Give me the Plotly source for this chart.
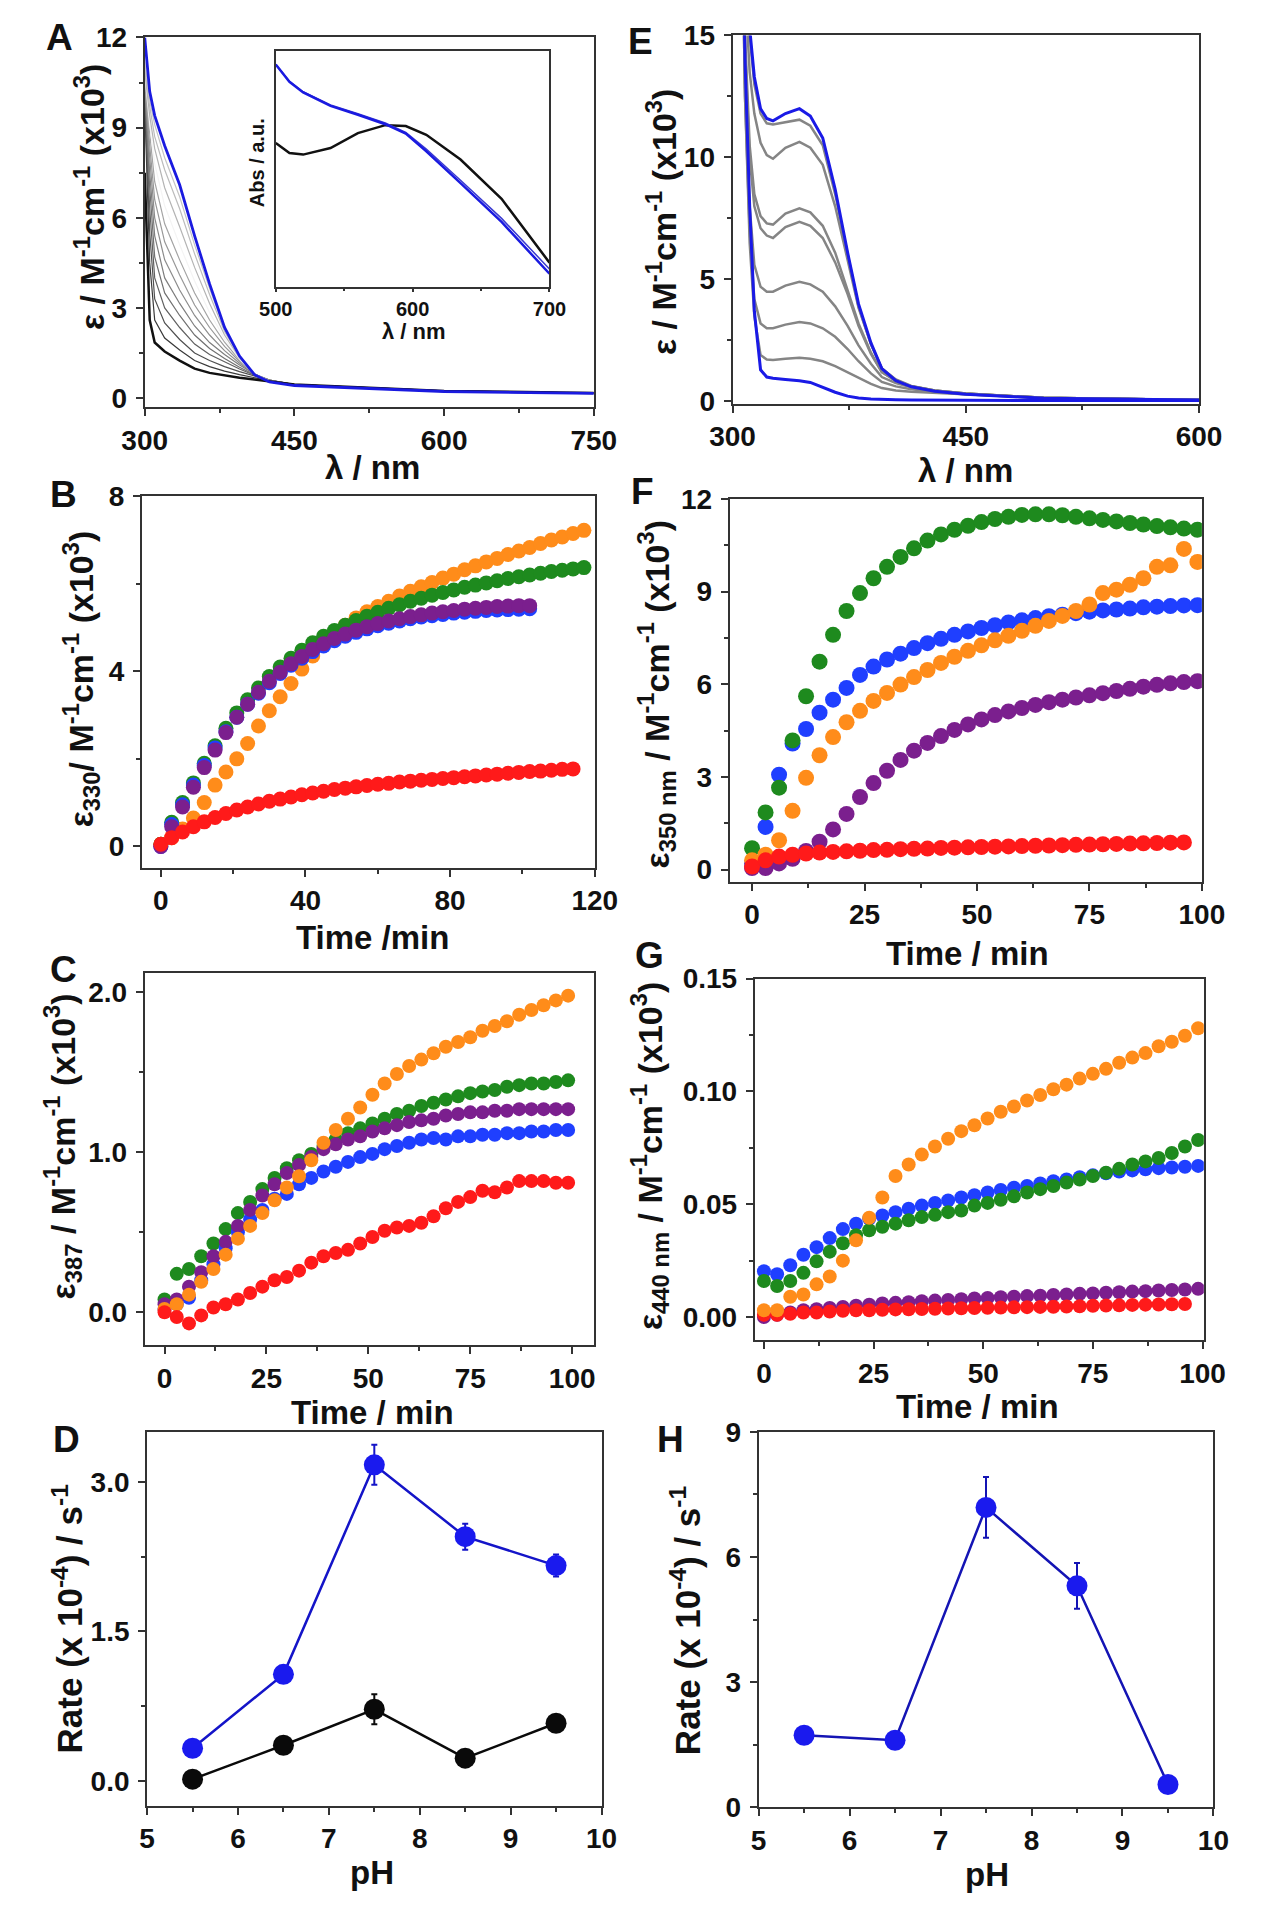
import plotly.graph_objects as go

W, H = 1267, 1920
M = 8  # default page (body) margin that shifts the whole figure
FONT = "Liberation Sans, Arial, sans-serif"

# ---------------- Panel A data ----------------
lam_a = [300, 305, 310, 320, 335, 350, 365, 380, 395, 410, 425, 450, 600, 750]
A_black = [7.5, 2.6, 1.85, 1.55, 1.25, 0.98, 0.84, 0.75, 0.68, 0.62, 0.56, 0.45, 0.24, 0.17]
A_blue = [12.0, 10.2, 9.4, 8.4, 7.1, 5.4, 3.8, 2.35, 1.4, 0.78, 0.54, 0.42, 0.22, 0.16]
A_gray = [
    [9.8, 4.5, 2.6, 2.0, 1.6, 1.25, 1.05, 0.9, 0.78, 0.68, 0.58, 0.45, 0.24, 0.17],
    [10.0, 5.5, 3.3, 2.5, 1.95, 1.5, 1.25, 1.05, 0.88, 0.73, 0.6, 0.45, 0.24, 0.17],
    [10.2, 6.3, 4.0, 3.0, 2.35, 1.8, 1.45, 1.2, 0.97, 0.76, 0.6, 0.45, 0.24, 0.17],
    [10.3, 7.0, 4.7, 3.5, 2.75, 2.1, 1.65, 1.32, 1.03, 0.78, 0.6, 0.45, 0.23, 0.17],
    [10.4, 7.5, 5.4, 4.0, 3.15, 2.4, 1.85, 1.45, 1.1, 0.8, 0.6, 0.44, 0.23, 0.16],
    [10.5, 8.0, 6.0, 4.6, 3.6, 2.75, 2.1, 1.58, 1.16, 0.8, 0.59, 0.44, 0.23, 0.16],
    [10.6, 8.4, 6.6, 5.2, 4.1, 3.1, 2.35, 1.72, 1.22, 0.8, 0.58, 0.44, 0.23, 0.16],
    [10.7, 8.8, 7.2, 5.8, 4.6, 3.5, 2.6, 1.86, 1.27, 0.8, 0.57, 0.43, 0.23, 0.16],
    [10.8, 9.1, 7.8, 6.4, 5.1, 3.9, 2.85, 1.98, 1.3, 0.79, 0.56, 0.43, 0.23, 0.16],
    [10.9, 9.4, 8.3, 7.0, 5.7, 4.35, 3.15, 2.1, 1.34, 0.79, 0.55, 0.43, 0.22, 0.16],
    [11.0, 9.7, 8.7, 7.6, 6.3, 4.8, 3.45, 2.22, 1.37, 0.78, 0.55, 0.42, 0.22, 0.16],
    [11.2, 9.9, 9.1, 8.0, 6.7, 5.1, 3.65, 2.3, 1.39, 0.78, 0.54, 0.42, 0.22, 0.16],
]
A_gray_colors = ["#3a3a3a", "#505050", "#606060", "#707070", "#7e7e7e", "#8c8c8c",
                 "#989898", "#a4a4a4", "#f4f4f4", "#b4b4b4", "#bcbcbc", "#c4c4c4"]

# inset of A
lam_in = [500, 510, 520, 540, 560, 580, 595, 610, 635, 665, 700]
in_black = [0.61, 0.568, 0.561, 0.589, 0.652, 0.686, 0.682, 0.645, 0.54, 0.373, 0.102]
in_blue = [0.944, 0.87, 0.825, 0.768, 0.73, 0.69, 0.65, 0.575, 0.44, 0.275, 0.055]
in_blue2 = [0.944, 0.872, 0.828, 0.772, 0.735, 0.695, 0.655, 0.585, 0.452, 0.29, 0.075]

# ---------------- Panel E data ----------------
lam_e = [302, 305, 308, 311, 314, 318, 322, 326, 334, 343, 350, 358, 366, 374, 381, 389,
         396, 405, 415, 430, 450, 500, 600]
E_blue_init = [40, 25, 14, 8.0, 3.7, 1.3, 1.0, 0.95, 0.9, 0.85, 0.78, 0.58, 0.38, 0.22, 0.14,
               0.1, 0.08, 0.07, 0.06, 0.05, 0.05, 0.04, 0.04]
E_blue_final = [40, 28, 19, 15.3, 13.3, 12.0, 11.6, 11.5, 11.8, 12.0, 11.7, 10.8, 8.7, 6.1,
                4.0, 2.4, 1.35, 0.85, 0.6, 0.42, 0.3, 0.13, 0.06]
E_gray = [
    [40, 28, 18.5, 15, 13, 11.8, 11.4, 11.35, 11.45, 11.55, 11.3, 10.5, 8.5, 6.0, 3.9, 2.35, 1.35, 0.88, 0.62, 0.44, 0.32, 0.15, 0.06],
    [40, 27, 17, 13.5, 11.8, 10.6, 10.1, 9.95, 10.4, 10.64, 10.4, 9.7, 8.0, 5.8, 3.85, 2.35, 1.35, 0.9, 0.64, 0.45, 0.33, 0.15, 0.06],
    [40, 26, 15, 10.5, 8.5, 7.6, 7.3, 7.25, 7.7, 7.92, 7.75, 7.2, 6.1, 4.6, 3.2, 2.0, 1.2, 0.85, 0.62, 0.45, 0.33, 0.15, 0.06],
    [40, 26, 14.5, 10, 8, 7.1, 6.8, 6.7, 7.15, 7.36, 7.2, 6.7, 5.7, 4.4, 3.1, 1.95, 1.2, 0.85, 0.62, 0.45, 0.33, 0.15, 0.06],
    [40, 25, 13, 8, 5.6, 4.7, 4.5, 4.5, 4.75, 4.91, 4.8, 4.5, 3.9, 3.1, 2.3, 1.55, 1.0, 0.75, 0.58, 0.43, 0.32, 0.15, 0.06],
    [40, 24, 12.5, 7, 4.2, 3.2, 3.0, 3.0, 3.15, 3.26, 3.2, 3.0, 2.65, 2.15, 1.65, 1.15, 0.8, 0.62, 0.5, 0.4, 0.3, 0.14, 0.06],
    [40, 24, 12.5, 6.5, 3.5, 1.9, 1.72, 1.7, 1.75, 1.79, 1.75, 1.65, 1.45, 1.2, 0.95, 0.72, 0.55, 0.45, 0.4, 0.35, 0.28, 0.14, 0.06],
]

# ---------------- Panel B data ----------------
tB = [0, 3, 6, 9, 12, 15, 18, 21, 24, 27, 30, 33, 36, 39, 42, 45, 48, 51, 54, 57,
      60, 63, 66, 69, 72, 75, 78, 81, 84, 87, 90, 93, 96, 99, 102, 105, 108, 111, 114, 117]
B_orange = [0.05, 0.2, 0.4, 0.65, 1.0, 1.4, 1.7, 2.0, 2.35, 2.75, 3.1, 3.42, 3.72, 4.05, 4.35, 4.6,
            4.85, 5.05, 5.22, 5.36, 5.48, 5.6, 5.72, 5.83, 5.93, 6.03, 6.13, 6.22, 6.32, 6.41,
            6.5, 6.58, 6.67, 6.75, 6.83, 6.92, 7.0, 7.07, 7.15, 7.22]
B_green = [0.05, 0.55, 1.0, 1.45, 1.9, 2.3, 2.7, 3.05, 3.35, 3.62, 3.88, 4.1, 4.3, 4.48, 4.65, 4.8,
           4.93, 5.05, 5.16, 5.26, 5.35, 5.44, 5.52, 5.6, 5.67, 5.74, 5.8, 5.86, 5.92, 5.97,
           6.02, 6.07, 6.12, 6.16, 6.2, 6.24, 6.28, 6.31, 6.34, 6.37]
tB_short = [0, 3, 6, 9, 12, 15, 18, 21, 24, 27, 30, 33, 36, 39, 42, 45, 48, 51, 54, 57,
            60, 63, 66, 69, 72, 75, 78, 81, 84, 87, 90, 93, 96, 99, 102]
B_blue = [0.0, 0.5, 0.95, 1.4, 1.85, 2.25, 2.62, 2.95, 3.25, 3.5, 3.74, 3.95, 4.14, 4.3, 4.45, 4.58,
          4.7, 4.8, 4.89, 4.97, 5.04, 5.1, 5.15, 5.2, 5.24, 5.27, 5.3, 5.33, 5.35, 5.37,
          5.39, 5.4, 5.41, 5.42, 5.43]
B_purple = [0.0, 0.45, 0.9, 1.35, 1.8, 2.2, 2.6, 2.95, 3.25, 3.52, 3.77, 3.98, 4.17, 4.34, 4.5, 4.63,
            4.75, 4.85, 4.94, 5.02, 5.09, 5.15, 5.2, 5.25, 5.29, 5.33, 5.36, 5.39, 5.42, 5.44,
            5.46, 5.48, 5.49, 5.5, 5.5]
tB_red = [0, 3, 6, 9, 12, 15, 18, 21, 24, 27, 30, 33, 36, 39, 42, 45, 48, 51, 54, 57,
          60, 63, 66, 69, 72, 75, 78, 81, 84, 87, 90, 93, 96, 99, 102, 105, 108, 111, 114]
B_red = [0.05, 0.2, 0.33, 0.45, 0.56, 0.66, 0.75, 0.83, 0.9, 0.97, 1.03, 1.08, 1.13, 1.18, 1.22, 1.26,
         1.3, 1.33, 1.36, 1.39, 1.42, 1.44, 1.47, 1.49, 1.51, 1.53, 1.55, 1.57, 1.59, 1.61,
         1.63, 1.65, 1.67, 1.69, 1.71, 1.72, 1.74, 1.76, 1.77]

# ---------------- Panels F, C, G time grid ----------------
t100 = [0, 3, 6, 9, 12, 15, 18, 21, 24, 27, 30, 33, 36, 39, 42, 45, 48, 51, 54, 57,
        60, 63, 66, 69, 72, 75, 78, 81, 84, 87, 90, 93, 96, 99]
t96 = [0, 3, 6, 9, 12, 15, 18, 21, 24, 27, 30, 33, 36, 39, 42, 45, 48, 51, 54, 57,
       60, 63, 66, 69, 72, 75, 78, 81, 84, 87, 90, 93, 96]

F_green = [0.69, 1.85, 2.65, 4.18, 5.61, 6.73, 7.6, 8.37, 8.95, 9.43, 9.8, 10.12, 10.4, 10.65, 10.85,
           11.0, 11.13, 11.25, 11.35, 11.42, 11.48, 11.5, 11.5, 11.47, 11.42, 11.37, 11.32, 11.27,
           11.22, 11.17, 11.12, 11.08, 11.04, 11.0]
F_blue = [0.2, 1.38, 3.07, 4.08, 4.55, 5.08, 5.5, 5.88, 6.3, 6.57, 6.8, 6.99, 7.17, 7.33, 7.47, 7.6,
          7.71, 7.82, 7.91, 8.0, 8.07, 8.14, 8.2, 8.25, 8.3, 8.35, 8.39, 8.42, 8.45, 8.49,
          8.51, 8.53, 8.55, 8.56]
F_orange = [0.3, 0.48, 0.95, 1.9, 2.97, 3.7, 4.29, 4.77, 5.14, 5.46, 5.72, 5.99, 6.23, 6.46, 6.69,
            6.89, 7.08, 7.26, 7.42, 7.57, 7.73, 7.89, 8.05, 8.21, 8.37, 8.58, 8.95, 9.06, 9.22,
            9.43, 9.8, 9.85, 10.38, 9.96]
F_purple = [0.05, 0.05, 0.2, 0.35, 0.6, 0.9, 1.3, 1.8, 2.35, 2.8, 3.2, 3.55, 3.85, 4.1, 4.32, 4.52,
            4.7, 4.86, 5.0, 5.12, 5.23, 5.33, 5.42, 5.5, 5.57, 5.64, 5.71, 5.78, 5.85, 5.92,
            5.98, 6.03, 6.07, 6.1]
F_red = [0.1, 0.3, 0.42, 0.48, 0.52, 0.55, 0.57, 0.59, 0.61, 0.63, 0.64, 0.66, 0.67, 0.68, 0.7, 0.71,
         0.72, 0.73, 0.74, 0.75, 0.76, 0.77, 0.78, 0.79, 0.8, 0.81, 0.82, 0.83, 0.84, 0.85,
         0.86, 0.87, 0.88]

C_orange = [0.02, 0.05, 0.11, 0.19, 0.27, 0.36, 0.46, 0.54, 0.62, 0.7, 0.78, 0.85, 0.95, 1.06, 1.14,
            1.21, 1.28, 1.36, 1.43, 1.49, 1.54, 1.58, 1.62, 1.66, 1.69, 1.72, 1.76, 1.79, 1.82,
            1.86, 1.89, 1.92, 1.95, 1.98]
C_green = [0.08, 0.24, 0.27, 0.35, 0.43, 0.52, 0.62, 0.69, 0.77, 0.84, 0.9, 0.95, 0.99, 1.04, 1.08,
           1.12, 1.15, 1.18, 1.21, 1.24, 1.26, 1.29, 1.31, 1.33, 1.35, 1.37, 1.38, 1.39, 1.41,
           1.42, 1.43, 1.43, 1.44, 1.45]
C_purple = [0.05, 0.08, 0.16, 0.25, 0.35, 0.44, 0.54, 0.64, 0.73, 0.8, 0.87, 0.92, 0.97, 1.02, 1.05,
            1.08, 1.1, 1.13, 1.15, 1.17, 1.19, 1.2, 1.21, 1.23, 1.24, 1.25, 1.25, 1.26, 1.26,
            1.27, 1.27, 1.27, 1.27, 1.27]
C_blue = [0.02, 0.05, 0.09, 0.2, 0.3, 0.4, 0.5, 0.58, 0.64, 0.71, 0.74, 0.8, 0.84, 0.88, 0.91, 0.94,
          0.97, 0.99, 1.02, 1.04, 1.06, 1.08, 1.09, 1.08, 1.1, 1.1, 1.11, 1.11, 1.12, 1.12,
          1.13, 1.13, 1.14, 1.14]
C_red = [0.0, -0.03, -0.07, -0.02, 0.03, 0.05, 0.08, 0.12, 0.16, 0.2, 0.22, 0.26, 0.31, 0.35, 0.37,
         0.39, 0.43, 0.47, 0.51, 0.53, 0.54, 0.56, 0.6, 0.65, 0.69, 0.72, 0.76, 0.75, 0.78,
         0.82, 0.82, 0.82, 0.81, 0.81]

G_orange = [0.003, 0.003, 0.009, 0.01, 0.0145, 0.018, 0.025, 0.034, 0.044, 0.053, 0.0625, 0.0676,
            0.072, 0.0756, 0.079, 0.0824, 0.085, 0.088, 0.091, 0.0933, 0.096, 0.0984, 0.101,
            0.103, 0.1057, 0.1078, 0.11, 0.1127, 0.115, 0.117, 0.12, 0.122, 0.1247, 0.128]
G_blue = [0.0203, 0.019, 0.023, 0.0276, 0.031, 0.035, 0.039, 0.0414, 0.0436, 0.045, 0.0465, 0.048,
          0.0494, 0.0506, 0.0517, 0.053, 0.054, 0.0552, 0.0563, 0.0573, 0.0581, 0.0592, 0.0602,
          0.061, 0.062, 0.0628, 0.0637, 0.0645, 0.065, 0.0655, 0.066, 0.0663, 0.0666, 0.067]
G_green = [0.016, 0.0138, 0.016, 0.0196, 0.0247, 0.029, 0.0327, 0.0363, 0.0385, 0.04, 0.0414,
           0.0429, 0.0443, 0.0453, 0.0465, 0.0472, 0.0494, 0.0506, 0.052, 0.0535, 0.0552, 0.0567,
           0.0581, 0.0596, 0.061, 0.0625, 0.064, 0.0657, 0.0676, 0.069, 0.0705, 0.0727, 0.0756, 0.0785]
G_purple = [0.0, 0.001, 0.002, 0.003, 0.0035, 0.004, 0.0045, 0.005, 0.0055, 0.006, 0.0063, 0.0066,
            0.007, 0.0073, 0.0076, 0.0079, 0.0082, 0.0085, 0.0088, 0.009, 0.0093, 0.0095, 0.0098,
            0.01, 0.0103, 0.0105, 0.0108, 0.011, 0.0113, 0.0115, 0.0118, 0.012, 0.0122, 0.0125]
G_red = [0.001, 0.001, 0.0015, 0.002, 0.002, 0.0025, 0.0028, 0.003, 0.003, 0.0032, 0.0034, 0.0035,
         0.0036, 0.0037, 0.0038, 0.0039, 0.004, 0.0041, 0.0042, 0.0043, 0.0044, 0.0045, 0.0046,
         0.0047, 0.0048, 0.005, 0.0051, 0.0052, 0.0054, 0.0055, 0.0056, 0.0057, 0.0058]

# ---------------- Panels D, H data ----------------
pH = [5.5, 6.5, 7.5, 8.5, 9.5]
D_blue = [0.33, 1.07, 3.17, 2.45, 2.16]
D_blue_err = [0.03, 0.05, 0.2, 0.13, 0.11]
D_black = [0.02, 0.36, 0.72, 0.23, 0.58]
D_black_err = [0.03, 0.04, 0.15, 0.03, 0.05]
H_blue = [1.73, 1.61, 7.19, 5.31, 0.55]
H_blue_err = [0.05, 0.05, 0.73, 0.55, 0.05]

# ---------------- tick labels ----------------
A_xt, A_xl = [300, 450, 600, 750], ["300", "450", "600", "750"]
A_yt, A_yl = [0, 3, 6, 9, 12], ["0", "3", "6", "9", "12"]
E_xt, E_xl = [300, 450, 600], ["300", "450", "600"]
E_yt, E_yl = [0, 5, 10, 15], ["0", "5", "10", "15"]
B_xt, B_xl = [0, 40, 80, 120], ["0", "40", "80", "120"]
B_yt, B_yl = [0, 4, 8], ["0", "4", "8"]
T_xt, T_xl = [0, 25, 50, 75, 100], ["0", "25", "50", "75", "100"]
F_yt, F_yl = [0, 3, 6, 9, 12], ["0", "3", "6", "9", "12"]
C_yt, C_yl = [0, 1, 2], ["0.0", "1.0", "2.0"]
G_yt, G_yl = [0, 0.05, 0.10, 0.15], ["0.00", "0.05", "0.10", "0.15"]
P_xt, P_xl = [5, 6, 7, 8, 9, 10], ["5", "6", "7", "8", "9", "10"]
D_yt, D_yl = [0, 1.5, 3.0], ["0.0", "1.5", "3.0"]
H_yt, H_yl = [0, 3, 6, 9], ["0", "3", "6", "9"]
I_xt, I_xl = [500, 600, 700], ["500", "600", "700"]

# ---------------- styling ----------------
C_OR, C_GR, C_BL, C_PU, C_RD = "#ff8c1a", "#1e8a1e", "#1f3fff", "#7b1f8e", "#ff1a1a"
AX = "#333333"
TICK = 28


def dom_x(l, r):
    return [(l - M) / W, (r - M) / W]


def dom_y(t, b):
    return [1 - (b - M) / H, 1 - (t - M) / H]


def bold(lst):
    return ["<b>" + s + "</b>" for s in lst]


def xaxis(l, r, anchor, rng, tv, tl, mtick0, mdtick, size=TICK, tlen=7, lw=2):
    return dict(domain=dom_x(l, r), anchor=anchor, range=rng, tickmode="array",
                tickvals=tv, ticktext=bold(tl),
                ticks="outside", ticklen=tlen, tickwidth=2, tickcolor=AX,
                showline=True, linecolor=AX, linewidth=lw, mirror=True,
                showgrid=False, zeroline=False,
                tickfont=dict(family=FONT, size=size, color="#111"),
                minor=dict(tickmode="linear", tick0=mtick0, dtick=mdtick, ticks="outside",
                           ticklen=4, tickwidth=2, tickcolor=AX))


def yaxis(t, b, anchor, rng, tv, tl, mtick0, mdtick, size=TICK):
    return dict(domain=dom_y(t, b), anchor=anchor, range=rng, tickmode="array",
                tickvals=tv, ticktext=bold(tl),
                ticks="outside", ticklen=7, tickwidth=2, tickcolor=AX,
                showline=True, linecolor=AX, linewidth=2, mirror=True,
                showgrid=False, zeroline=False, ticklabelstandoff=3,
                tickfont=dict(family=FONT, size=size, color="#111"),
                minor=dict(tickmode="linear", tick0=mtick0, dtick=mdtick, ticks="outside",
                           ticklen=4, tickwidth=2, tickcolor=AX))


fig = go.Figure()


def line(x, y, ax, color, width):
    fig.add_trace(go.Scatter(x=x, y=y, mode="lines", line=dict(color=color, width=width),
                             xaxis="x" + ax, yaxis="y" + ax, showlegend=False,
                             hoverinfo="skip"))


def dots(x, y, ax, color, size=15):
    fig.add_trace(go.Scatter(x=x, y=y, mode="markers",
                             marker=dict(color=color, size=size, line=dict(width=0)),
                             xaxis="x" + ax, yaxis="y" + ax, showlegend=False))


# Panel A
for g, c in zip(A_gray, A_gray_colors):
    line(lam_a, g, "", c, 1.2)
line(lam_a, A_black, "", "#111111", 2.5)
line(lam_a, A_blue, "", "#1a1ae0", 2.8)
# inset
line(lam_in, in_black, "9", "#111111", 2.5)
line(lam_in, in_blue2, "9", "#3a3ad0", 1.5)
line(lam_in, in_blue, "9", "#1a1ae0", 2.5)

# Panel E
for g in E_gray:
    line(lam_e, g, "2", "#858585", 2.5)
line(lam_e, E_blue_init, "2", "#1a1ae6", 3)
line(lam_e, E_blue_final, "2", "#1a1ae6", 3)

# Panel B
dots(tB, B_orange, "3", C_OR)
dots(tB, B_green, "3", C_GR)
dots(tB_short, B_blue, "3", C_BL)
dots(tB_short, B_purple, "3", C_PU)
dots(tB_red, B_red, "3", C_RD)

# Panel F
dots(t100, F_blue, "4", C_BL, 16)
dots(t100, F_green, "4", C_GR, 16)
dots(t100, F_orange, "4", C_OR, 16)
dots(t100, F_purple, "4", C_PU, 16)
dots(t96, F_red, "4", C_RD, 16)

# Panel C
dots(t100, C_green, "5", C_GR, 14)
dots(t100, C_blue, "5", C_BL, 14)
dots(t100, C_purple, "5", C_PU, 14)
dots(t100, C_orange, "5", C_OR, 14)
dots(t100, C_red, "5", C_RD, 14)

# Panel G
dots(t100, G_purple, "6", C_PU, 14)
dots(t96, G_red, "6", C_RD, 14)
dots(t100, G_blue, "6", C_BL, 14)
dots(t100, G_green, "6", C_GR, 14)
dots(t100, G_orange, "6", C_OR, 14)


def rate(y, err, ax, mcolor, lcolor):
    fig.add_trace(go.Scatter(x=pH, y=y, mode="lines+markers",
                             line=dict(color=lcolor, width=2.5),
                             marker=dict(color=mcolor, size=21, line=dict(width=0)),
                             error_y=dict(type="data", array=err, color=lcolor, thickness=2,
                                          width=3),
                             xaxis="x" + ax, yaxis="y" + ax, showlegend=False))


rate(D_blue, D_blue_err, "7", "#1a1aee", "#1414c8")
rate(D_black, D_black_err, "7", "#0a0a0a", "#0a0a0a")
rate(H_blue, H_blue_err, "8", "#1a1aee", "#1414b4")

# ---------------- layout ----------------
lay = dict(
    width=W, height=H, margin=dict(l=0, r=0, t=0, b=0),
    paper_bgcolor="white", plot_bgcolor="white", showlegend=False,
    font=dict(family=FONT, color="#111"),
    xaxis=xaxis(126, 592, "y", [300, 750], A_xt, A_xl, 300, 75),
    yaxis=yaxis(22.7, 398.3, "x", [-0.295, 12], A_yt, A_yl, 0, 1.5),
    xaxis2=xaxis(736, 1220, "y2", [300, 600], E_xt, E_xl, 300, 75),
    yaxis2=yaxis(20.7, 395, "x2", [-0.093, 15], E_yt, E_yl, 0, 2.5),
    xaxis3=xaxis(123, 593, "y3", [-5.26, 120], B_xt, B_xl, 0, 20),
    yaxis3=yaxis(489, 866.7, "x3", [-0.49, 8], B_yt, B_yl, 0, 2),
    xaxis4=xaxis(733, 1223, "y4", [-4.98, 100], T_xt, T_xl, 0, 12.5),
    yaxis4=yaxis(491.7, 880.7, "x4", [-0.39, 12], F_yt, F_yl, 0, 1.5),
    xaxis5=xaxis(126, 592, "y5", [-4.86, 105.3], T_xt, T_xl, 0, 12.5),
    yaxis5=yaxis(974, 1351.7, "x5", [-0.205, 2.119], C_yt, C_yl, 0, 0.5),
    xaxis6=xaxis(759, 1225, "y6", [-2.1, 100.3], T_xt, T_xl, 0, 12.5),
    yaxis6=yaxis(979.3, 1346.7, "x6", [-0.0102, 0.15], G_yt, G_yl, 0, 0.025),
    xaxis7=xaxis(128.5, 600, "y7", [5, 10], P_xt, P_xl, 5, 0.5),
    yaxis7=yaxis(1440, 1820, "x7", [-0.2465, 3.5], D_yt, D_yl, 0, 0.75),
    xaxis8=xaxis(763, 1235, "y8", [5, 10], P_xt, P_xl, 5, 0.5),
    yaxis8=yaxis(1440, 1821.7, "x8", [0, 9], H_yt, H_yl, 0, 1.5),
    xaxis9=xaxis(262, 546, "y9", [500, 700], I_xt, I_xl, 500, 50, size=20, tlen=4, lw=1.5),
    yaxis9=dict(domain=dom_y(36.7, 276), anchor="x9", range=[0, 1], showline=True,
                linecolor=AX, linewidth=1.5, mirror=True, showgrid=False, zeroline=False,
                showticklabels=False, ticks=""),
)
lay["xaxis9"]["minor"]["ticklen"] = 3
fig.update_layout(**lay)

ann = []


def txt(x, y, s, size, angle=0):
    ann.append(dict(x=(x - M) / W, y=1 - (y - M) / H, xref="paper", yref="paper", text=s,
                    showarrow=False, xanchor="center", yanchor="middle", textangle=angle,
                    font=dict(family=FONT, size=size, color="#111", weight="bold")))


# panel letters
for L, x, y in [("A", 38, 23), ("E", 640, 27), ("B", 42, 487), ("F", 643, 484),
                ("C", 42, 970), ("G", 650, 956), ("D", 45, 1448), ("H", 672, 1448)]:
    txt(x, y, L, 37)

EPS = "ε / M<sup>-1</sup>cm<sup>-1</sup> (x10<sup>3</sup>)"
TAIL = "M<sup>-1</sup>cm<sup>-1</sup> (x10<sup>3</sup>)"
RATE = "Rate (x 10<sup>-4</sup>) / s<sup>-1</sup>"
txt(68, 185, EPS, 34, -90)
txt(662, 210, EPS, 34, -90)
txt(60, 675, "ε<sub>330</sub>/ " + TAIL, 34, -90)
txt(657, 690, "ε<sub>350 nm</sub> / " + TAIL, 34, -90)
txt(40, 1150, "ε<sub>387</sub> / " + TAIL, 34, -90)
txt(650, 1160, "ε<sub>440 nm</sub> / " + TAIL, 34, -90)
txt(46, 1630, RATE, 35, -90)
txt(687, 1632, RATE, 35, -90)

txt(362, 460, "λ / nm", 33)
txt(978, 463, "λ / nm", 33)
txt(362, 938, "Time /min", 33)
txt(980, 954, "Time / min", 33)
txt(362, 1420, "Time / min", 33)
txt(990, 1414, "Time / min", 33)
txt(362, 1888, "pH", 33)
txt(1000, 1890, "pH", 33)

# inset titles
txt(405, 322, "λ / nm", 22)
txt(242, 150, "Abs / a.u.", 20, -90)

fig.update_layout(annotations=ann)
fig.write_html("out.html")
